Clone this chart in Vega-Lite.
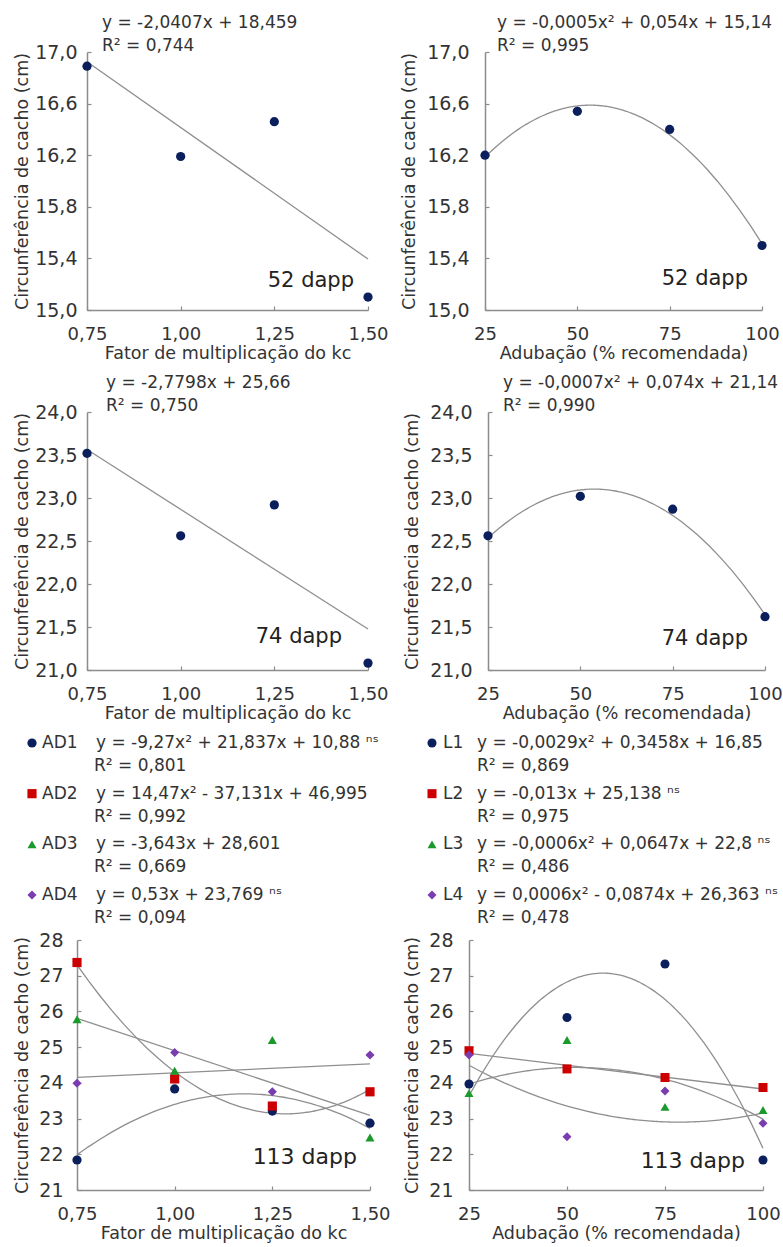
{
  "$schema": "https://vega.github.io/schema/vega-lite/v6.json",
  "background": "white",
  "padding": {"left": 13, "top": 14, "right": 2, "bottom": 2},
  "config": {
    "font": "DejaVu Sans",
    "view": {"stroke": null},
    "axis": {"grid": false, "domainColor": "#8c8c8c", "domainWidth": 1.5, "tickColor": "#8c8c8c", "tickSize": -4, "tickWidth": 1.2, "labelFont": "DejaVu Sans", "labelFontSize": 18, "labelColor": "#333333", "labelFlush": false, "labelOverlap": false, "titleFont": "DejaVu Sans", "titleFontSize": 17.5, "titleFontWeight": "normal", "titleColor": "#333333"},
    "axisX": {"labelPadding": 19, "titlePadding": 1},
    "axisY": {"labelFontSize": 19},
    "title": {"anchor": "start", "frame": "group", "font": "DejaVu Sans", "fontSize": 17, "fontWeight": "normal", "color": "#333333", "lineHeight": 23, "offset": -12},
    "legend": {"disable": true},
    "text": {"font": "DejaVu Sans"}
  },
  "datasets": {
    "d52k": [{"x": 0.75, "y": 16.89}, {"x": 1.0, "y": 16.19}, {"x": 1.25, "y": 16.46}, {"x": 1.5, "y": 15.10}],
    "d52a": [{"x": 25, "y": 16.20}, {"x": 50, "y": 16.54}, {"x": 75, "y": 16.40}, {"x": 100, "y": 15.50}],
    "d74k": [{"x": 0.75, "y": 23.52}, {"x": 1.0, "y": 22.56}, {"x": 1.25, "y": 22.92}, {"x": 1.5, "y": 21.08}],
    "d74a": [{"x": 25, "y": 22.56}, {"x": 50, "y": 23.02}, {"x": 75, "y": 22.87}, {"x": 100, "y": 21.62}],
    "d113k": [
      {"s": "AD1", "x": 0.75, "y": 21.84}, {"s": "AD1", "x": 1.0, "y": 23.83}, {"s": "AD1", "x": 1.25, "y": 23.21}, {"s": "AD1", "x": 1.5, "y": 22.87},
      {"s": "AD2", "x": 0.75, "y": 27.37}, {"s": "AD2", "x": 1.0, "y": 24.11}, {"s": "AD2", "x": 1.25, "y": 23.35}, {"s": "AD2", "x": 1.5, "y": 23.75},
      {"s": "AD3", "x": 0.75, "y": 25.78}, {"s": "AD3", "x": 1.0, "y": 24.34}, {"s": "AD3", "x": 1.25, "y": 25.20}, {"s": "AD3", "x": 1.5, "y": 22.47},
      {"s": "AD4", "x": 0.75, "y": 23.99}, {"s": "AD4", "x": 1.0, "y": 24.85}, {"s": "AD4", "x": 1.25, "y": 23.75}, {"s": "AD4", "x": 1.5, "y": 24.78}
    ],
    "d113a": [
      {"s": "L1", "x": 25, "y": 23.97}, {"s": "L1", "x": 50, "y": 25.83}, {"s": "L1", "x": 75, "y": 27.33}, {"s": "L1", "x": 100, "y": 21.84},
      {"s": "L2", "x": 25, "y": 24.90}, {"s": "L2", "x": 50, "y": 24.39}, {"s": "L2", "x": 75, "y": 24.15}, {"s": "L2", "x": 100, "y": 23.87},
      {"s": "L3", "x": 25, "y": 23.71}, {"s": "L3", "x": 50, "y": 25.20}, {"s": "L3", "x": 75, "y": 23.33}, {"s": "L3", "x": 100, "y": 23.24},
      {"s": "L4", "x": 25, "y": 24.78}, {"s": "L4", "x": 50, "y": 22.49}, {"s": "L4", "x": 75, "y": 23.77}, {"s": "L4", "x": 100, "y": 22.87}
    ],
    "leg113k": [
      {"s": "AD1", "eq": "y = -9,27x² + 21,837x + 10,88 ⁿˢ", "r2": "R² = 0,801"},
      {"s": "AD2", "eq": "y = 14,47x² - 37,131x + 46,995", "r2": "R² = 0,992"},
      {"s": "AD3", "eq": "y = -3,643x + 28,601", "r2": "R² = 0,669"},
      {"s": "AD4", "eq": "y = 0,53x + 23,769 ⁿˢ", "r2": "R² = 0,094"}
    ],
    "leg113a": [
      {"s": "L1", "eq": "y = -0,0029x² + 0,3458x + 16,85", "r2": "R² = 0,869"},
      {"s": "L2", "eq": "y = -0,013x + 25,138 ⁿˢ", "r2": "R² = 0,975"},
      {"s": "L3", "eq": "y = -0,0006x² + 0,0647x + 22,8 ⁿˢ", "r2": "R² = 0,486"},
      {"s": "L4", "eq": "y = 0,0006x² - 0,0874x + 26,363 ⁿˢ", "r2": "R² = 0,478"}
    ]
  },
  "spacing": 12,
  "vconcat": [
    {
      "spacing": 11,
      "hconcat": [
        {
          "width": 291, "height": 258,
          "title": {"text": ["y = -2,0407x + 18,459", "R² = 0,744"], "dx": 25},
          "data": {"name": "d52k"},
          "encoding": {
            "x": {"field": "x", "type": "quantitative", "scale": {"domain": [0.75, 1.5], "range": [10, 291], "nice": false, "zero": false}, "axis": {"values": [0.75, 1, 1.25, 1.5], "labelExpr": "replace(format(datum.value, '.2f'), '.', ',')", "title": "Fator de multiplicação do kc"}},
            "y": {"field": "y", "type": "quantitative", "scale": {"domain": [15, 17], "nice": false, "zero": false}, "axis": {"offset": -10, "values": [15, 15.4, 15.8, 16.2, 16.6, 17], "labelExpr": "replace(format(datum.value, '.1f'), '.', ',')", "title": "Circunferência de cacho (cm)", "labelPadding": 14, "titlePadding": 3}}
          },
          "layer": [
            {"transform": [{"regression": "y", "on": "x"}], "mark": {"type": "line", "color": "#8f8f8f", "strokeWidth": 1.3}},
            {"mark": {"type": "point", "filled": true, "opacity": 1, "size": 85, "color": "#0b1f5c"}},
            {"mark": {"type": "text", "text": "52 dapp", "fontSize": 21, "color": "#222222", "align": "right", "dx": -14, "dy": -16}, "encoding": {"x": {"aggregate": "max", "field": "x", "type": "quantitative"}, "y": {"aggregate": "min", "field": "y", "type": "quantitative"}}}
          ]
        },
        {
          "width": 277, "height": 258,
          "title": {"text": ["y = -0,0005x² + 0,054x + 15,14", "R² = 0,995"], "dx": 12},
          "data": {"name": "d52a"},
          "encoding": {
            "x": {"field": "x", "type": "quantitative", "scale": {"domain": [25, 100], "nice": false, "zero": false}, "axis": {"values": [25, 50, 75, 100], "format": "d", "title": "Adubação (% recomendada)"}},
            "y": {"field": "y", "type": "quantitative", "scale": {"domain": [15, 17], "nice": false, "zero": false}, "axis": {"values": [15, 15.4, 15.8, 16.2, 16.6, 17], "labelExpr": "replace(format(datum.value, '.1f'), '.', ',')", "title": "Circunferência de cacho (cm)", "labelPadding": 20, "titlePadding": 8}}
          },
          "layer": [
            {"transform": [{"regression": "y", "on": "x", "method": "poly", "order": 2}], "mark": {"type": "line", "color": "#8f8f8f", "strokeWidth": 1.3}},
            {"mark": {"type": "point", "filled": true, "opacity": 1, "size": 85, "color": "#0b1f5c"}},
            {"mark": {"type": "text", "text": "52 dapp", "fontSize": 21, "color": "#222222", "align": "right", "dx": -14, "dy": 33}, "encoding": {"x": {"aggregate": "max", "field": "x", "type": "quantitative"}, "y": {"aggregate": "min", "field": "y", "type": "quantitative"}}}
          ]
        }
      ]
    },
    {
      "spacing": 14,
      "hconcat": [
        {
          "width": 291, "height": 258,
          "title": {"text": ["y = -2,7798x + 25,66", "R² = 0,750"], "dx": 29},
          "data": {"name": "d74k"},
          "encoding": {
            "x": {"field": "x", "type": "quantitative", "scale": {"domain": [0.75, 1.5], "range": [10, 291], "nice": false, "zero": false}, "axis": {"values": [0.75, 1, 1.25, 1.5], "labelExpr": "replace(format(datum.value, '.2f'), '.', ',')", "title": "Fator de multiplicação do kc"}},
            "y": {"field": "y", "type": "quantitative", "scale": {"domain": [21, 24], "nice": false, "zero": false}, "axis": {"offset": -10, "values": [21, 21.5, 22, 22.5, 23, 23.5, 24], "labelExpr": "replace(format(datum.value, '.1f'), '.', ',')", "title": "Circunferência de cacho (cm)", "labelPadding": 14, "titlePadding": 3}}
          },
          "layer": [
            {"transform": [{"regression": "y", "on": "x"}], "mark": {"type": "line", "color": "#8f8f8f", "strokeWidth": 1.3}},
            {"mark": {"type": "point", "filled": true, "opacity": 1, "size": 85, "color": "#0b1f5c"}},
            {"mark": {"type": "text", "text": "74 dapp", "fontSize": 21, "color": "#222222", "align": "right", "dx": -26, "dy": -26}, "encoding": {"x": {"aggregate": "max", "field": "x", "type": "quantitative"}, "y": {"aggregate": "min", "field": "y", "type": "quantitative"}}}
          ]
        },
        {
          "width": 277, "height": 258,
          "title": {"text": ["y = -0,0007x² + 0,074x + 21,14", "R² = 0,990"], "dx": 15},
          "data": {"name": "d74a"},
          "encoding": {
            "x": {"field": "x", "type": "quantitative", "scale": {"domain": [25, 100], "nice": false, "zero": false}, "axis": {"values": [25, 50, 75, 100], "format": "d", "title": "Adubação (% recomendada)"}},
            "y": {"field": "y", "type": "quantitative", "scale": {"domain": [21, 24], "nice": false, "zero": false}, "axis": {"values": [21, 21.5, 22, 22.5, 23, 23.5, 24], "labelExpr": "replace(format(datum.value, '.1f'), '.', ',')", "title": "Circunferência de cacho (cm)", "labelPadding": 20, "titlePadding": 8}}
          },
          "layer": [
            {"transform": [{"regression": "y", "on": "x", "method": "poly", "order": 2}], "mark": {"type": "line", "color": "#8f8f8f", "strokeWidth": 1.3}},
            {"mark": {"type": "point", "filled": true, "opacity": 1, "size": 85, "color": "#0b1f5c"}},
            {"mark": {"type": "text", "text": "74 dapp", "fontSize": 21, "color": "#222222", "align": "right", "dx": -17, "dy": 22}, "encoding": {"x": {"aggregate": "max", "field": "x", "type": "quantitative"}, "y": {"aggregate": "min", "field": "y", "type": "quantitative"}}}
          ]
        }
      ]
    },
    {
      "spacing": 12,
      "hconcat": [
        {
          "spacing": 5,
          "vconcat": [
            {
              "width": 200, "height": 152,
              "data": {"name": "leg113k"},
              "encoding": {
                "y": {"field": "s", "type": "nominal", "sort": null, "scale": {"type": "point", "padding": 0}, "axis": null},
                "x": {"datum": 0, "scale": {"domain": [0, 1]}, "axis": null}
              },
              "layer": [
                {"mark": {"type": "point", "filled": true, "opacity": 1, "xOffset": -45}, "encoding": {
                  "color": {"field": "s", "type": "nominal", "legend": null, "scale": {"domain": ["AD1", "AD2", "AD3", "AD4", "L1", "L2", "L3", "L4"], "range": ["#0b1f5c", "#cc0000", "#1a9a2a", "#7a3db0", "#0b1f5c", "#cc0000", "#1a9a2a", "#7a3db0"]}},
                  "shape": {"field": "s", "type": "nominal", "legend": null, "scale": {"domain": ["AD1", "AD2", "AD3", "AD4", "L1", "L2", "L3", "L4"], "range": ["circle", "square", "triangle-up", "diamond", "circle", "square", "triangle-up", "diamond"]}},
                  "size": {"field": "s", "type": "nominal", "legend": null, "scale": {"domain": ["AD1", "AD2", "AD3", "AD4", "L1", "L2", "L3", "L4"], "range": [85, 80, 130, 100, 85, 80, 130, 100]}}
                }},
                {"mark": {"type": "text", "align": "left", "dx": -35, "fontSize": 17, "color": "#333333"}, "encoding": {"text": {"field": "s"}}},
                {"mark": {"type": "text", "align": "left", "dx": 19, "fontSize": 17, "color": "#333333"}, "encoding": {"text": {"field": "eq"}}},
                {"mark": {"type": "text", "align": "left", "dx": 17, "dy": 23, "fontSize": 17, "color": "#333333"}, "encoding": {"text": {"field": "r2"}}}
              ]
            },
            {
              "width": 293, "height": 250,
              "data": {"name": "d113k"},
              "encoding": {
                "x": {"field": "x", "type": "quantitative", "scale": {"domain": [0.75, 1.5], "nice": false, "zero": false}, "axis": {"values": [0.75, 1, 1.25, 1.5], "labelExpr": "replace(format(datum.value, '.2f'), '.', ',')", "title": "Fator de multiplicação do kc"}},
                "y": {"field": "y", "type": "quantitative", "scale": {"domain": [21, 28], "nice": false, "zero": false}, "axis": {"values": [21, 22, 23, 24, 25, 26, 27, 28], "format": "d", "title": "Circunferência de cacho (cm)", "labelPadding": 18, "titlePadding": 7}}
              },
              "layer": [
                {"transform": [{"filter": {"field": "s", "oneOf": ["AD1", "AD2"]}}, {"regression": "y", "on": "x", "groupby": ["s"], "method": "poly", "order": 2}], "mark": {"type": "line", "color": "#8f8f8f", "strokeWidth": 1.3}, "encoding": {"detail": {"field": "s", "type": "nominal"}}},
                {"transform": [{"filter": {"field": "s", "oneOf": ["AD3", "AD4"]}}, {"regression": "y", "on": "x", "groupby": ["s"]}], "mark": {"type": "line", "color": "#8f8f8f", "strokeWidth": 1.3}, "encoding": {"detail": {"field": "s", "type": "nominal"}}},
                {"mark": {"type": "point", "filled": true, "opacity": 1}, "encoding": {
                  "color": {"field": "s", "type": "nominal", "legend": null, "scale": {"domain": ["AD1", "AD2", "AD3", "AD4", "L1", "L2", "L3", "L4"], "range": ["#0b1f5c", "#cc0000", "#1a9a2a", "#7a3db0", "#0b1f5c", "#cc0000", "#1a9a2a", "#7a3db0"]}},
                  "shape": {"field": "s", "type": "nominal", "legend": null, "scale": {"domain": ["AD1", "AD2", "AD3", "AD4", "L1", "L2", "L3", "L4"], "range": ["circle", "square", "triangle-up", "diamond", "circle", "square", "triangle-up", "diamond"]}},
                  "size": {"field": "s", "type": "nominal", "legend": null, "scale": {"domain": ["AD1", "AD2", "AD3", "AD4", "L1", "L2", "L3", "L4"], "range": [85, 80, 130, 100, 85, 80, 130, 100]}}
                }},
                {"mark": {"type": "text", "text": "113 dapp", "fontSize": 22, "color": "#222222", "align": "right", "dx": -13, "dy": -3}, "encoding": {"x": {"aggregate": "max", "field": "x", "type": "quantitative"}, "y": {"aggregate": "min", "field": "y", "type": "quantitative"}}}
              ]
            }
          ]
        },
        {
          "spacing": 5,
          "vconcat": [
            {
              "width": 200, "height": 152,
              "data": {"name": "leg113a"},
              "encoding": {
                "y": {"field": "s", "type": "nominal", "sort": null, "scale": {"type": "point", "padding": 0}, "axis": null},
                "x": {"datum": 0, "scale": {"domain": [0, 1]}, "axis": null}
              },
              "layer": [
                {"mark": {"type": "point", "filled": true, "opacity": 1, "xOffset": -37}, "encoding": {
                  "color": {"field": "s", "type": "nominal", "legend": null, "scale": {"domain": ["AD1", "AD2", "AD3", "AD4", "L1", "L2", "L3", "L4"], "range": ["#0b1f5c", "#cc0000", "#1a9a2a", "#7a3db0", "#0b1f5c", "#cc0000", "#1a9a2a", "#7a3db0"]}},
                  "shape": {"field": "s", "type": "nominal", "legend": null, "scale": {"domain": ["AD1", "AD2", "AD3", "AD4", "L1", "L2", "L3", "L4"], "range": ["circle", "square", "triangle-up", "diamond", "circle", "square", "triangle-up", "diamond"]}},
                  "size": {"field": "s", "type": "nominal", "legend": null, "scale": {"domain": ["AD1", "AD2", "AD3", "AD4", "L1", "L2", "L3", "L4"], "range": [85, 80, 130, 100, 85, 80, 130, 100]}}
                }},
                {"mark": {"type": "text", "align": "left", "dx": -26, "fontSize": 17, "color": "#333333"}, "encoding": {"text": {"field": "s"}}},
                {"mark": {"type": "text", "align": "left", "dx": 8, "fontSize": 17, "color": "#333333"}, "encoding": {"text": {"field": "eq"}}},
                {"mark": {"type": "text", "align": "left", "dx": 8, "dy": 23, "fontSize": 17, "color": "#333333"}, "encoding": {"text": {"field": "r2"}}}
              ]
            },
            {
              "width": 294, "height": 250,
              "data": {"name": "d113a"},
              "encoding": {
                "x": {"field": "x", "type": "quantitative", "scale": {"domain": [25, 100], "nice": false, "zero": false}, "axis": {"values": [25, 50, 75, 100], "format": "d", "title": "Adubação (% recomendada)"}},
                "y": {"field": "y", "type": "quantitative", "scale": {"domain": [21, 28], "nice": false, "zero": false}, "axis": {"values": [21, 22, 23, 24, 25, 26, 27, 28], "format": "d", "title": "Circunferência de cacho (cm)", "labelPadding": 20, "titlePadding": 7}}
              },
              "layer": [
                {"transform": [{"filter": {"field": "s", "oneOf": ["L1", "L3", "L4"]}}, {"regression": "y", "on": "x", "groupby": ["s"], "method": "poly", "order": 2}], "mark": {"type": "line", "color": "#8f8f8f", "strokeWidth": 1.3}, "encoding": {"detail": {"field": "s", "type": "nominal"}}},
                {"transform": [{"filter": {"field": "s", "oneOf": ["L2"]}}, {"regression": "y", "on": "x", "groupby": ["s"]}], "mark": {"type": "line", "color": "#8f8f8f", "strokeWidth": 1.3}, "encoding": {"detail": {"field": "s", "type": "nominal"}}},
                {"mark": {"type": "point", "filled": true, "opacity": 1}, "encoding": {
                  "color": {"field": "s", "type": "nominal", "legend": null, "scale": {"domain": ["AD1", "AD2", "AD3", "AD4", "L1", "L2", "L3", "L4"], "range": ["#0b1f5c", "#cc0000", "#1a9a2a", "#7a3db0", "#0b1f5c", "#cc0000", "#1a9a2a", "#7a3db0"]}},
                  "shape": {"field": "s", "type": "nominal", "legend": null, "scale": {"domain": ["AD1", "AD2", "AD3", "AD4", "L1", "L2", "L3", "L4"], "range": ["circle", "square", "triangle-up", "diamond", "circle", "square", "triangle-up", "diamond"]}},
                  "size": {"field": "s", "type": "nominal", "legend": null, "scale": {"domain": ["AD1", "AD2", "AD3", "AD4", "L1", "L2", "L3", "L4"], "range": [85, 80, 130, 100, 85, 80, 130, 100]}}
                }},
                {"mark": {"type": "text", "text": "113 dapp", "fontSize": 22, "color": "#222222", "align": "right", "dx": -18, "dy": 1}, "encoding": {"x": {"aggregate": "max", "field": "x", "type": "quantitative"}, "y": {"aggregate": "min", "field": "y", "type": "quantitative"}}}
              ]
            }
          ]
        }
      ]
    }
  ]
}
